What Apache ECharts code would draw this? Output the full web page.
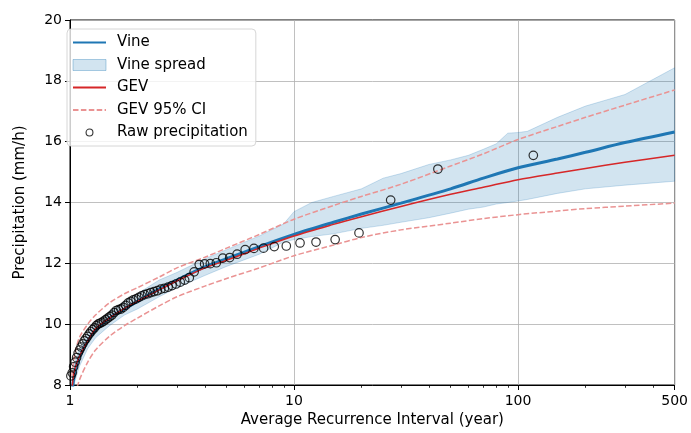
<!DOCTYPE html>
<html>
<head>
<meta charset="utf-8">
<script src="https://cdn.jsdelivr.net/npm/echarts@6/dist/echarts.min.js"></script>
<style>
html, body { margin: 0; padding: 0; background: #fff; }
#chart { width: 691px; height: 433px; }
</style>
</head>
<body>
<div id="chart"></div>
<script>
// 曲线的重现期 (year)
var curveT = [1.02, 1.03, 1.05, 1.1, 1.2, 1.3, 1.5, 1.75, 2, 2.5, 3, 4, 5, 7, 10, 15, 20, 30, 50, 70, 100, 150, 200, 300, 500];
var vine = [7.6, 8.0, 8.4, 8.9, 9.45, 9.8, 10.2, 10.5, 10.75, 11.15, 11.45, 11.88, 12.15, 12.55, 12.95, 13.35, 13.62, 13.98, 14.45, 14.8, 15.14, 15.43, 15.65, 15.97, 16.32];
var gev = [7.8, 8.15, 8.5, 8.93, 9.45, 9.85, 10.2, 10.52, 10.75, 11.13, 11.42, 11.85, 12.1, 12.5, 12.9, 13.28, 13.53, 13.87, 14.27, 14.5, 14.75, 14.97, 15.12, 15.32, 15.55];
var gevUpper = [8.3, 8.6, 9.0, 9.55, 10.0, 10.3, 10.7, 11.0, 11.2, 11.55, 11.85, 12.2, 12.5, 12.95, 13.45, 13.9, 14.2, 14.6, 15.2, 15.6, 16.07, 16.5, 16.8, 17.2, 17.7];
var gevLower = [6.9, 7.2, 7.6, 8.15, 8.75, 9.15, 9.6, 9.95, 10.2, 10.6, 10.9, 11.25, 11.5, 11.85, 12.25, 12.6, 12.85, 13.1, 13.32, 13.47, 13.6, 13.72, 13.8, 13.88, 13.98];

// Vine spread
var bandT = [1.02, 1.03, 1.05, 1.1, 1.2, 1.3, 1.5, 1.75, 2, 2.5, 3, 4, 5, 7, 9, 10, 12, 15, 20, 25, 30, 40, 50, 60, 70, 80, 90, 100, 110, 150, 200, 300, 500];
var bandUpper = [8.1, 8.35, 8.75, 9.2, 9.7, 10.0, 10.4, 10.75, 11.0, 11.45, 11.7, 12.15, 12.45, 12.9, 13.3, 13.7, 14.0, 14.2, 14.45, 14.8, 14.95, 15.25, 15.4, 15.55, 15.75, 15.93, 16.28, 16.3, 16.34, 16.8, 17.17, 17.55, 18.43];
var bandLower = [7.5, 7.75, 8.1, 8.6, 9.2, 9.55, 9.95, 10.3, 10.5, 10.9, 11.2, 11.6, 11.9, 12.3, 12.7, 12.78, 12.88, 12.97, 13.15, 13.25, 13.35, 13.5, 13.65, 13.78, 13.85, 13.95, 14.0, 14.05, 14.1, 14.3, 14.45, 14.57, 14.7];

// 原始降水 (Cunnane 重现期)
var rawT = [117.0, 43.875, 27.0, 19.5, 15.261, 12.536, 10.636, 9.237, 8.163, 7.313,
	6.623, 6.052, 5.571, 5.162, 4.808, 4.5, 4.229, 3.989, 3.774, 3.582,
	3.408, 3.25, 3.106, 2.975, 2.854, 2.742, 2.639, 2.543, 2.455, 2.372,
	2.294, 2.222, 2.153, 2.089, 2.029, 1.972, 1.918, 1.867, 1.819, 1.773,
	1.729, 1.688, 1.648, 1.61, 1.574, 1.539, 1.506, 1.475, 1.444, 1.415,
	1.387, 1.36, 1.335, 1.31, 1.286, 1.263, 1.24, 1.219, 1.198, 1.178,
	1.158, 1.14, 1.121, 1.104, 1.087, 1.07, 1.054, 1.038, 1.023, 1.009];
var rawP = [15.55, 15.1, 14.08, 13.0, 12.78, 12.7, 12.67, 12.57, 12.55, 12.5,
	12.49, 12.45, 12.3, 12.19, 12.17, 12.02, 11.99, 11.98, 11.96, 11.72,
	11.53, 11.45, 11.38, 11.32, 11.27, 11.22, 11.18, 11.15, 11.1, 11.07,
	11.04, 11.0, 10.97, 10.93, 10.88, 10.83, 10.8, 10.75, 10.7, 10.62,
	10.55, 10.5, 10.48, 10.45, 10.38, 10.3, 10.25, 10.2, 10.15, 10.1,
	10.06, 10.03, 10.0, 9.95, 9.88, 9.82, 9.75, 9.68, 9.6, 9.52,
	9.45, 9.35, 9.25, 9.15, 9.05, 8.9, 8.75, 8.6, 8.4, 8.3];

var minorTicks = [2, 3, 4, 5, 6, 7, 8, 9, 20, 30, 40, 50, 60, 70, 80, 90, 200, 300, 400];

function pairs(xs, ys) {
	return xs.map(function(x, i) { return [x, ys[i]]; });
}

var font = 'DejaVu Sans';
var ciColor = '#ea9393';
// 图例里的小圆圈 (四角的空点只用来留边)
var smallCircle = 'path://M0,0L0,0M16,16L16,16M8,3A5,5 0 1 1 8,13A5,5 0 1 1 8,3Z';

var chart = echarts.init(document.getElementById('chart'));

var option = {
	animation: false,
	textStyle: { fontFamily: font },
	grid: {
		left: 70, right: 15, top: 20, bottom: 41,
		show: true, borderColor: '#000', borderWidth: 1, backgroundColor: '#fff'
	},
	legend: {
		orient: 'vertical',
		left: 67, top: 29,
		padding: [6, 8, 6, 5],
		itemGap: 7.5,
		itemWidth: 33,
		itemHeight: 11,
		backgroundColor: 'rgba(255,255,255,0.8)',
		borderColor: '#d6d6d6',
		borderWidth: 1,
		borderRadius: 4,
		textStyle: { fontSize: 15, color: '#000', fontFamily: font, padding: [0, 0, 0, 6] },
		data: [
			{ name: 'Vine', itemStyle: { opacity: 0 } },
			{ name: 'Vine spread', icon: 'rect',
				itemStyle: { color: 'rgba(31,119,180,0.2)', borderColor: 'rgba(31,119,180,0.35)', borderWidth: 1 } },
			{ name: 'GEV', itemStyle: { opacity: 0 } },
			{ name: 'GEV 95% CI', itemStyle: { opacity: 0 } },
			{ name: 'Raw precipitation', icon: smallCircle,
				itemStyle: { color: 'rgba(0,0,0,0)', borderColor: '#000', borderWidth: 1.1 } }
		]
	},
	xAxis: [{
		type: 'log',
		logBase: 10,
		min: 1,
		max: 500,
		name: 'Average Recurrence Interval (year)',
		nameLocation: 'middle',
		nameGap: 28,
		nameTextStyle: { fontSize: 15, color: '#000', fontFamily: font },
		axisLine: { show: true, lineStyle: { color: '#000', width: 1 } },
		axisTick: { show: true, length: 5, lineStyle: { color: '#000', width: 1 } },
		axisLabel: { fontSize: 14, color: '#000', margin: 9, fontFamily: font },
		splitLine: { show: true, lineStyle: { color: '#b0b0b0', width: 0.8 } }
	}, {
		type: 'log',
		logBase: 10,
		min: 1,
		max: 500,
		position: 'bottom',
		axisLine: { show: false },
		axisTick: { show: true, length: 2.8, customValues: minorTicks, lineStyle: { color: '#000', width: 0.8 } },
		axisLabel: { show: false },
		splitLine: { show: false }
	}],
	yAxis: {
		type: 'value',
		min: 8,
		max: 20,
		interval: 2,
		name: 'Precipitation (mm/h)',
		nameLocation: 'middle',
		nameGap: 42,
		nameTextStyle: { fontSize: 15, color: '#000', fontFamily: font },
		axisLine: { show: true, lineStyle: { color: '#000', width: 1 } },
		axisTick: { show: true, length: 5, lineStyle: { color: '#000', width: 1 } },
		axisLabel: { fontSize: 14, color: '#000', margin: 8, fontFamily: font },
		splitLine: { show: true, lineStyle: { color: '#b0b0b0', width: 0.8 } }
	},
	series: [{
		name: 'Vine spread',
		type: 'custom',
		clip: true,
		itemStyle: { color: 'rgba(31,119,180,0.2)' },
		renderItem: function(params, api) {
			if (params.dataIndex !== 0) return;
			var pts = [];
			for (var i = 0; i < bandT.length; i++) pts.push(api.coord([bandT[i], bandUpper[i]]));
			for (var j = bandT.length - 1; j >= 0; j--) pts.push(api.coord([bandT[j], bandLower[j]]));
			return {
				type: 'polygon',
				shape: { points: pts },
				style: { fill: 'rgba(31,119,180,0.2)', stroke: 'rgba(31,119,180,0.22)', lineWidth: 1 }
			};
		},
		data: pairs(bandT, bandUpper),
		z: 1
	}, {
		name: 'Vine',
		type: 'line',
		data: pairs(curveT, vine),
		showSymbol: false,
		symbol: 'none',
		smooth: 0.3,
		lineStyle: { color: '#1f77b4', width: 3 },
		itemStyle: { color: '#1f77b4' },
		z: 3
	}, {
		name: 'GEV',
		type: 'line',
		data: pairs(curveT, gev),
		symbol: 'none',
		smooth: 0.3,
		lineStyle: { color: '#d62728', width: 1.5 },
		itemStyle: { color: '#d62728' },
		z: 4
	}, {
		name: 'GEV 95% CI',
		type: 'line',
		data: pairs(curveT, gevUpper),
		symbol: 'none',
		smooth: 0.3,
		lineStyle: { color: ciColor, width: 1.5, type: [5.5, 2.4] },
		itemStyle: { color: ciColor },
		z: 4
	}, {
		name: 'GEV 95% CI',
		type: 'line',
		data: pairs(curveT, gevLower),
		symbol: 'none',
		smooth: 0.3,
		lineStyle: { color: ciColor, width: 1.5, type: [5.5, 2.4] },
		itemStyle: { color: ciColor },
		z: 4
	}, {
		name: 'Raw precipitation',
		type: 'scatter',
		data: pairs(rawT, rawP),
		symbol: 'circle',
		symbolSize: 8.5,
		itemStyle: { color: 'rgba(0,0,0,0)', borderColor: '#000', borderWidth: 1.2 },
		z: 5
	}]
};

chart.setOption(option);
</script>
</body>
</html>
